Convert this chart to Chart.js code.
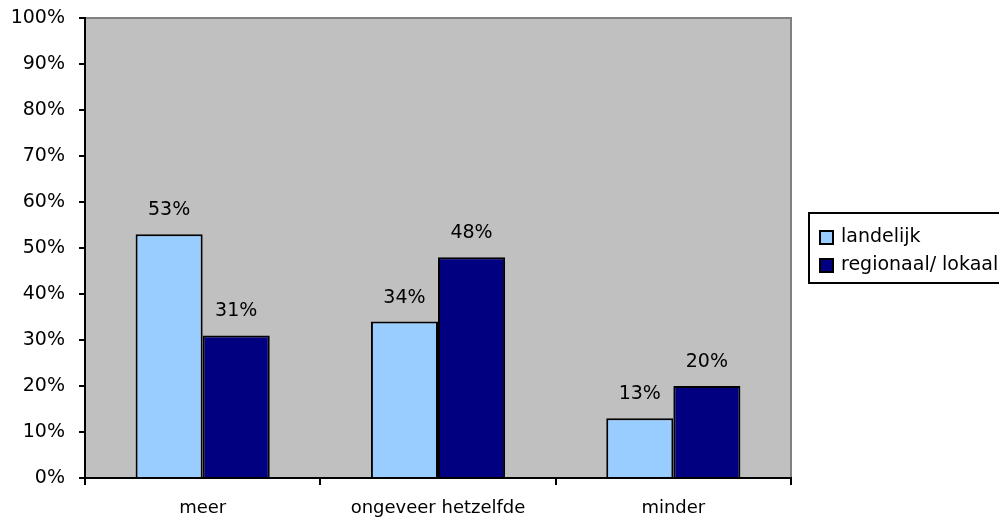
<!DOCTYPE html>
<html>
  <script src="https://cdn.jsdelivr.net/npm/chart.js@4/dist/chart.umd.min.js"></script>
  <style>
    body { margin: 0; background: #fff; }
    #wrap { width: 999px; height: 524px; }
  </style>
  <body>
    <div id="wrap"><canvas id="myChart"></canvas></div>
    <script>
      const categories = ["meer", "ongeveer hetzelfde", "minder"];
      const seriesNames = ["landelijk", "regionaal/ lokaal"];
      const landelijk = [53, 34, 13];
      const regionaal = [31, 48, 20];
      const seriesColors = ["#99CCFF", "#000080"];

      const FONT = "DejaVu Sans";

      // gray plot area behind the bars
      const plotBg = {
        id: "plotBg",
        beforeDraw(chart) {
          const a = chart.chartArea, ctx = chart.ctx;
          ctx.save();
          ctx.fillStyle = "#C0C0C0";
          ctx.fillRect(a.left, a.top, a.right - a.left, a.bottom - a.top);
          ctx.strokeStyle = "#808080";
          ctx.lineWidth = 2;
          ctx.strokeRect(a.left, a.top, a.right - a.left, a.bottom - a.top);
          ctx.restore();
        }
      };

      // value labels above bars + boxed legend on the right
      const extras = {
        id: "extras",
        afterDatasetsDraw(chart) {
          const ctx = chart.ctx;
          ctx.save();
          ctx.font = "19px '" + FONT + "'";
          ctx.fillStyle = "#000";
          ctx.textAlign = "center";
          ctx.textBaseline = "middle";
          chart.data.datasets.forEach((ds, i) => {
            chart.getDatasetMeta(i).data.forEach((bar, j) => {
              ctx.fillText(ds.data[j] + "%", bar.x, bar.y - 24);
            });
          });

          // legend
          ctx.lineWidth = 2;
          ctx.strokeStyle = "#000";
          ctx.strokeRect(809, 213, 200, 70);
          ctx.textAlign = "left";
          ctx.font = "19px '" + FONT + "'";
          chart.data.datasets.forEach((ds, i) => {
            const y = 237 + i * 28;
            ctx.fillStyle = ds.backgroundColor;
            ctx.fillRect(820, y - 6, 13, 13);
            ctx.lineWidth = 2;
            ctx.strokeRect(820, y - 6, 13, 13);
            ctx.fillStyle = "#000";
            ctx.fillText(ds.label, 841, y);
          });
          ctx.restore();
        }
      };

      new Chart(document.getElementById("myChart"), {
        type: "bar",
        data: {
          labels: categories,
          datasets: [
            {
              label: seriesNames[0],
              data: landelijk,
              backgroundColor: seriesColors[0],
              borderColor: "#000",
              borderWidth: 2,
              borderSkipped: "bottom",
              barPercentage: 1,
              categoryPercentage: 0.57
            },
            {
              label: seriesNames[1],
              data: regionaal,
              backgroundColor: seriesColors[1],
              borderColor: "#000",
              borderWidth: 2,
              borderSkipped: "bottom",
              barPercentage: 1,
              categoryPercentage: 0.57
            }
          ]
        },
        options: {
          responsive: true,
          maintainAspectRatio: false,
          animation: false,
          layout: { padding: { top: 18, right: 208, left: 0, bottom: 0 } },
          plugins: {
            legend: { display: false },
            tooltip: { enabled: false }
          },
          scales: {
            x: {
              grid: {
                offset: true,
                drawOnChartArea: false,
                drawTicks: true,
                tickLength: 7,
                color: "#000",
                lineWidth: 2
              },
              border: { color: "#000", width: 2 },
              ticks: { color: "#000", font: { family: FONT, size: 18 }, padding: 13 },
              afterFit(s) { s.height = 46; s.paddingLeft = 0; s.paddingRight = 0; }
            },
            y: {
              min: 0,
              max: 100,
              ticks: {
                stepSize: 10,
                color: "#000",
                font: { family: FONT, size: 19 },
                padding: 14,
                callback: (v) => v + "%"
              },
              grid: {
                drawOnChartArea: false,
                drawTicks: true,
                tickLength: 6,
                color: "#000",
                lineWidth: 2
              },
              border: { color: "#000", width: 2 },
              afterFit(s) { s.width = 85; s.paddingTop = 0; s.paddingBottom = 0; }
            }
          }
        },
        plugins: [plotBg, extras]
      });
    </script>
  </body>
</html>
